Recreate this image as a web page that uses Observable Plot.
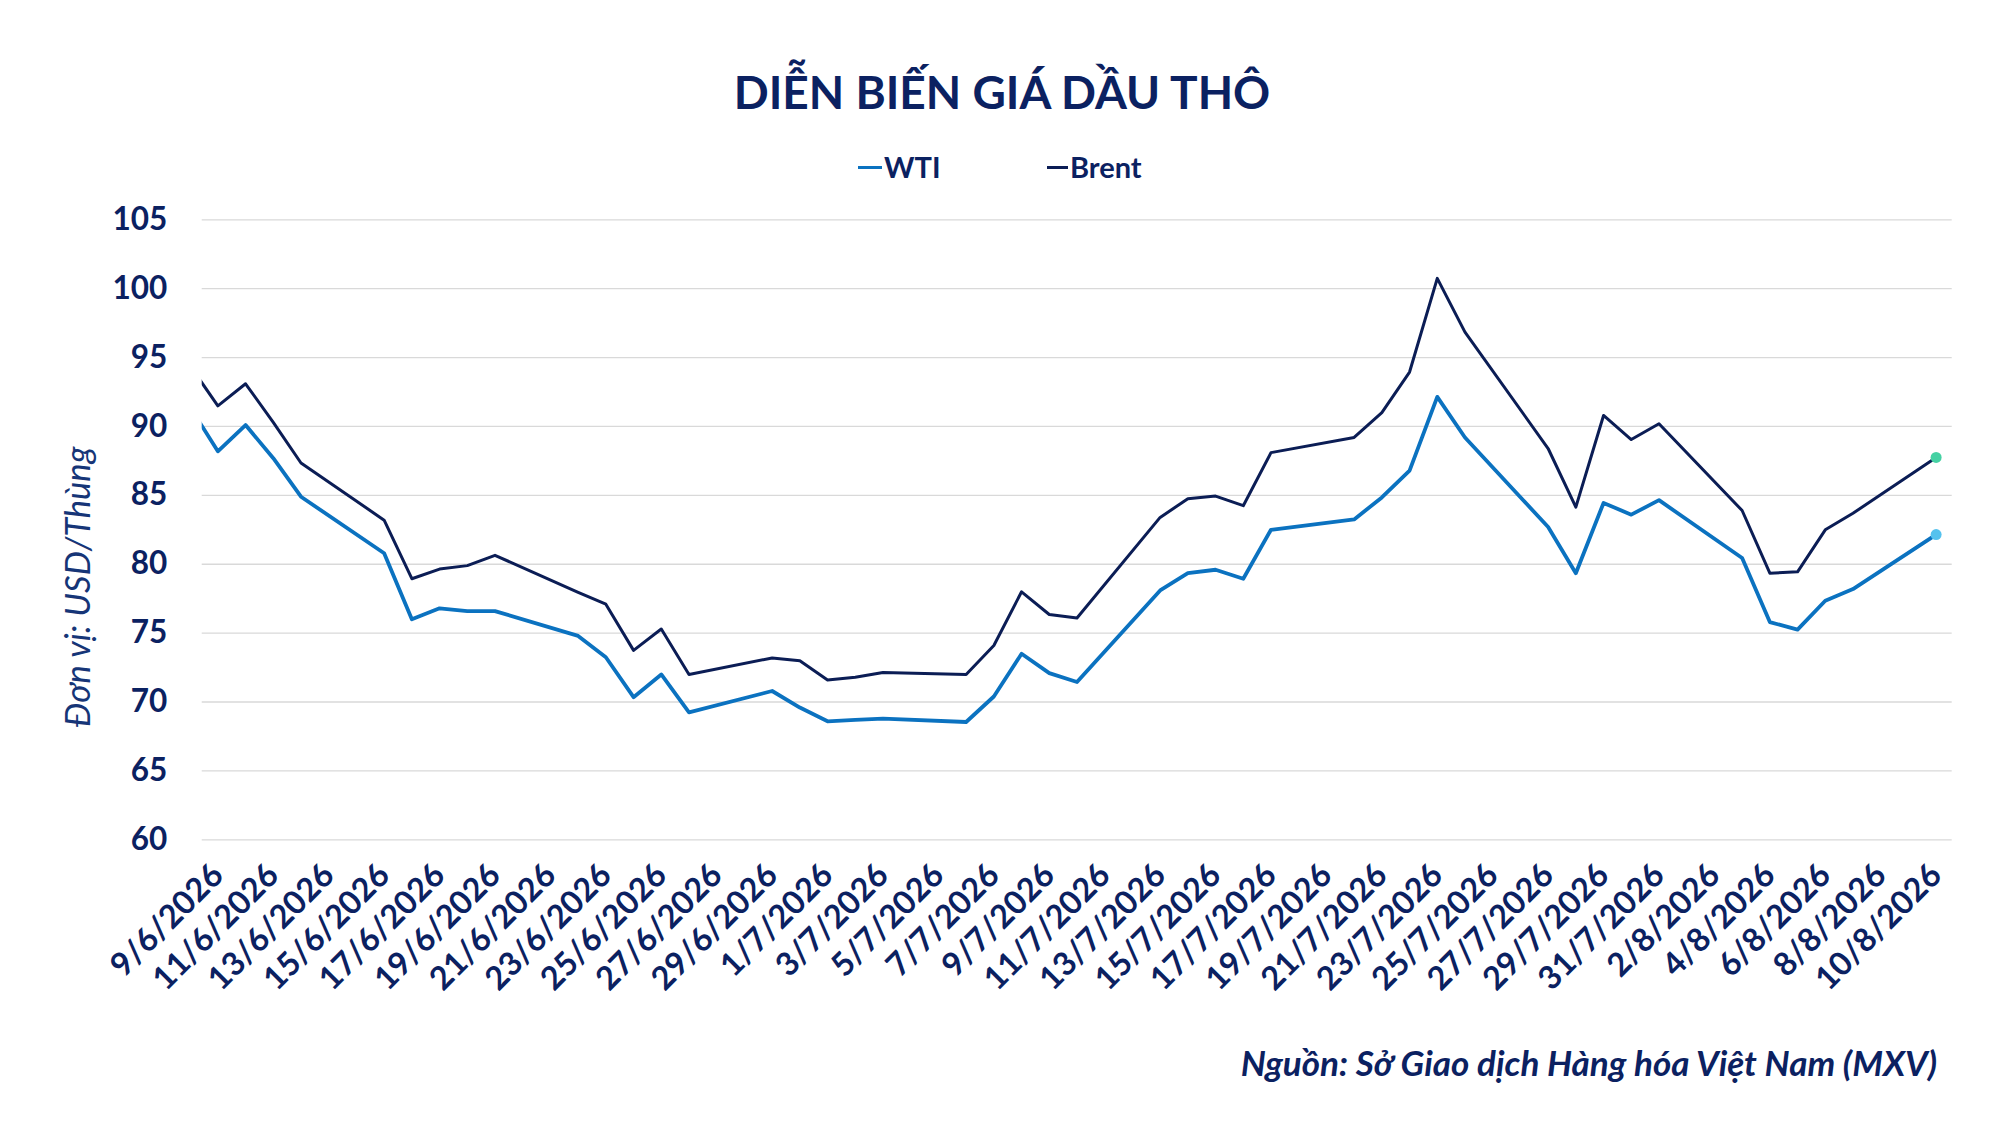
<!DOCTYPE html>
<html><head><meta charset="utf-8">
<script src="https://cdn.jsdelivr.net/npm/d3@7"></script>
<script src="https://cdn.jsdelivr.net/npm/@observablehq/plot@0.6"></script>
<style>
body{margin:0;background:#fff;}
#wrap{position:relative;width:2000px;height:1125px;background:#fff;font-family:Lato,"Open Sans",sans-serif;color:#0b2161;overflow:hidden;}
#chart{position:absolute;left:0;top:0;}
.abs{position:absolute;line-height:1;white-space:nowrap;}
</style></head><body>
<div id="wrap">
<div id="chart"></div>
<div class="abs" id="title" style="left:1002px;top:68.5px;transform:translateX(-50%);font-size:46px;font-weight:700;">DIỄN BIẾN GIÁ DẦU THÔ</div>
<div class="abs" style="left:858px;top:166px;width:24px;height:3px;background:#0b72c0;"></div>
<div class="abs" style="left:884px;top:151.6px;font-size:29px;font-weight:700;">WTI</div>
<div class="abs" style="left:1047px;top:166px;width:21px;height:3px;background:#0b1d55;"></div>
<div class="abs" style="left:1070px;top:151.6px;font-size:29px;font-weight:700;">Brent</div>
<div class="abs" style="left:77px;top:587px;transform:translate(-50%,-50%) rotate(-90deg);font-size:34.5px;font-style:italic;color:#163577;">Đơn vị: USD/Thùng</div>
<div class="abs" style="right:63px;top:1045px;font-size:35px;font-weight:700;font-style:italic;">Nguồn: Sở Giao dịch Hàng hóa Việt Nam (MXV)</div>
</div>
<script>
const series = ["WTI", "Brent"];
const colors = ["#0b72c0", "#0b1d55"];
const endColors = ["#55c2ee", "#45d1a3"];

const dates = [
  "8/6/2026","9/6/2026","10/6/2026","11/6/2026","12/6/2026","15/6/2026","16/6/2026","17/6/2026","18/6/2026","19/6/2026",
  "22/6/2026","23/6/2026","24/6/2026","25/6/2026","26/6/2026","29/6/2026","30/6/2026",
  "1/7/2026","2/7/2026","3/7/2026","6/7/2026","7/7/2026","8/7/2026","9/7/2026","10/7/2026",
  "13/7/2026","14/7/2026","15/7/2026","16/7/2026","17/7/2026","20/7/2026","21/7/2026","22/7/2026","23/7/2026","24/7/2026",
  "27/7/2026","28/7/2026","29/7/2026","30/7/2026","31/7/2026",
  "3/8/2026","4/8/2026","5/8/2026","6/8/2026","7/8/2026","10/8/2026"
];
const wti = [
  91.4, 88.2, 90.1, 87.7, 84.9, 80.8, 76.0, 76.8, 76.6, 76.6,
  74.8, 73.25, 70.35, 72.0, 69.25, 70.8, 69.6,
  68.6, 68.7, 68.8, 68.55, 70.4, 73.5, 72.1, 71.45,
  78.1, 79.35, 79.6, 78.95, 82.5, 83.25, 84.85, 86.8, 92.15, 89.2,
  82.7, 79.35, 84.45, 83.6, 84.65,
  80.45, 75.8, 75.25, 77.35, 78.2, 82.15
];
const brent = [
  94.4, 91.5, 93.1, 90.3, 87.35, 83.2, 78.95, 79.65, 79.9, 80.65,
  77.95, 77.1, 73.75, 75.3, 72.0, 73.2, 73.0,
  71.6, 71.8, 72.15, 72.0, 74.1, 78.0, 76.35, 76.1,
  83.4, 84.75, 84.95, 84.25, 88.1, 89.2, 91.0, 93.95, 100.75, 96.85,
  88.4, 84.15, 90.8, 89.05, 90.2,
  83.9, 79.35, 79.45, 82.5, 83.7, 87.75
];
const tickLabels = [
  "9/6/2026","11/6/2026","13/6/2026","15/6/2026","17/6/2026","19/6/2026","21/6/2026","23/6/2026","25/6/2026","27/6/2026","29/6/2026",
  "1/7/2026","3/7/2026","5/7/2026","7/7/2026","9/7/2026","11/7/2026","13/7/2026","15/7/2026","17/7/2026","19/7/2026","21/7/2026",
  "23/7/2026","25/7/2026","27/7/2026","29/7/2026","31/7/2026",
  "2/8/2026","4/8/2026","6/8/2026","8/8/2026","10/8/2026"
];
const yTicks = [60, 65, 70, 75, 80, 85, 90, 95, 100, 105];

const parse = s => { const [d, m, y] = s.split("/").map(Number); return new Date(Date.UTC(y, m - 1, d)); };
const fmt = d => `${d.getUTCDate()}/${d.getUTCMonth() + 1}/${d.getUTCFullYear()}`;
const rowsW = dates.map((s, i) => ({date: parse(s), value: wti[i], series: "WTI"}));
const rowsB = dates.map((s, i) => ({date: parse(s), value: brent[i], series: "Brent"}));
const tickDates = tickLabels.map(parse);
const DAY = 864e5;
const x0 = tickDates[0], x1 = tickDates[tickDates.length - 1];
const navy = "#0b2161";

const chart = Plot.plot({
  width: 2000, height: 1125,
  marginLeft: 201.7, marginRight: 48.3, marginTop: 219.3, marginBottom: 285.7,
  style: {fontFamily: "Lato, 'Open Sans', sans-serif", background: "transparent", overflow: "visible"},
  x: {type: "utc", domain: [new Date(+x0 - 0.565 * DAY), new Date(+x1 + 0.58 * DAY)]},
  y: {domain: [60, 105]},
  marks: [
    Plot.gridY(yTicks, {stroke: "#d9d9d9", strokeOpacity: 1, strokeWidth: 1.3}),
    Plot.axisY(yTicks, {tickSize: 0, tickPadding: 35, fontSize: 31.5, fontWeight: 700, fill: navy, label: null}),
    Plot.axisX(tickDates, {tickSize: 0, tickRotate: -45, tickPadding: 30, tickFormat: fmt, fontSize: 32.5, fontWeight: 700, fill: navy, label: null}),
    Plot.line(rowsB, {x: "date", y: "value", stroke: colors[1], strokeWidth: 3, clip: true}),
    Plot.line(rowsW, {x: "date", y: "value", stroke: colors[0], strokeWidth: 3.8, clip: true}),
    Plot.dot([rowsW[rowsW.length - 1]], {x: "date", y: "value", r: 5.5, fill: endColors[0]}),
    Plot.dot([rowsB[rowsB.length - 1]], {x: "date", y: "value", r: 5.5, fill: endColors[1]})
  ]
});
document.getElementById("chart").appendChild(chart);
</script>
</body></html>
